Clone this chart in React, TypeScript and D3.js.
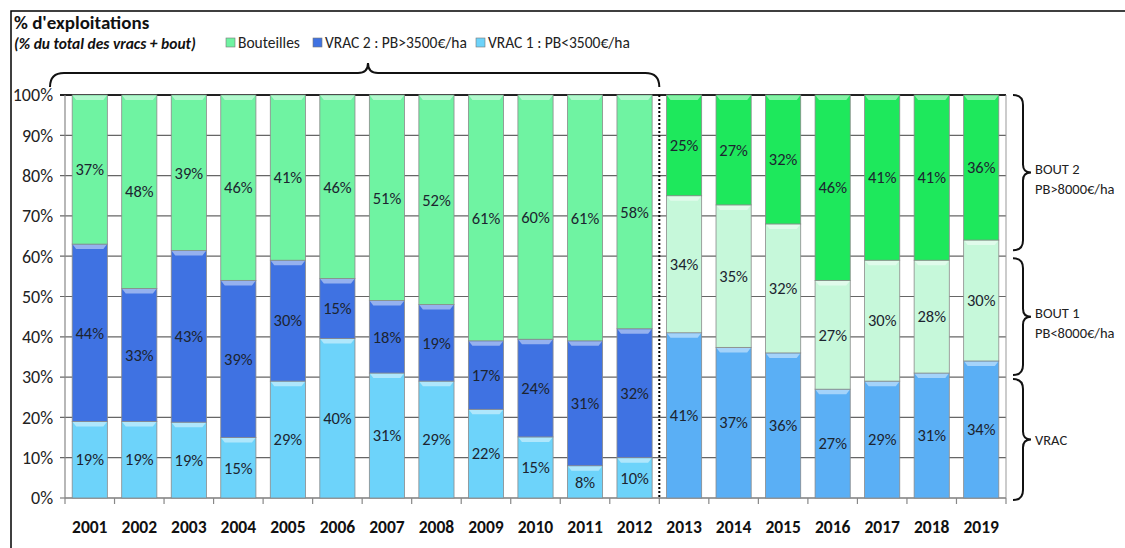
import React from 'react';
import * as d3 from 'd3';

const years1 = ['2001', '2002', '2003', '2004', '2005', '2006', '2007', '2008', '2009', '2010', '2011', '2012'];
const vrac1 = [19, 19, 19, 15, 29, 40, 31, 29, 22, 15, 8, 10];
const vrac2 = [44, 33, 43, 39, 30, 15, 18, 19, 17, 24, 31, 32];
const bouteilles = [37, 48, 39, 46, 41, 46, 51, 52, 61, 60, 61, 58];

const years2 = ['2013', '2014', '2015', '2016', '2017', '2018', '2019'];
const vrac = [41, 37, 36, 27, 29, 31, 34];
const bout1 = [34, 35, 32, 27, 30, 28, 30];
const bout2 = [25, 27, 32, 46, 41, 41, 36];

const yTicks = [0, 10, 20, 30, 40, 50, 60, 70, 80, 90, 100];

const legendItems = [
  { label: 'Bouteilles', color: '#6ff3a2' },
  { label: 'VRAC 2 : PB>3500€/ha', color: '#3f72e2' },
  { label: 'VRAC 1 : PB<3500€/ha', color: '#6dd3fa' },
];

const braces = [
  { from: 100, to: 61.5, lines: ['BOUT 2', 'PB>8000€/ha'] },
  { from: 59.5, to: 30.5, lines: ['BOUT 1', 'PB<8000€/ha'] },
  { from: 29.5, to: -0.5, lines: ['VRAC'] },
];

const FONT = 'Carlito, Lato, "Open Sans", sans-serif';

type Row = { year: string; [k: string]: number | string };

function lighten(c: string, k: number) {
  return d3.interpolateRgb(c, '#ffffff')(k);
}

export default function App() {
  const W = 1125;
  const H = 548;
  const left = 65;
  const right = 1006;
  const top = 95;
  const bottom = 498;

  const allYears = [...years1, ...years2];
  const x = d3.scaleBand<string>().domain(allYears).range([left, right]).paddingInner(0.29).paddingOuter(0.145);
  const y = d3.scaleLinear().domain([0, 1]).range([bottom, top]);
  const yPct = d3.scaleLinear().domain([0, 100]).range([bottom, top]);
  const bw = x.bandwidth();

  const rows1: Row[] = years1.map((yr, i) => ({ year: yr, vrac1: vrac1[i], vrac2: vrac2[i], bouteilles: bouteilles[i] }));
  const rows2: Row[] = years2.map((yr, i) => ({ year: yr, vrac: vrac[i], bout1: bout1[i], bout2: bout2[i] }));

  const stack1 = d3.stack<Row>().keys(['vrac1', 'vrac2', 'bouteilles']).value((d, k) => d[k] as number).offset(d3.stackOffsetExpand)(rows1);
  const stack2 = d3.stack<Row>().keys(['vrac', 'bout1', 'bout2']).value((d, k) => d[k] as number).offset(d3.stackOffsetExpand)(rows2);

  const colors: Record<string, string> = {
    vrac1: '#6dd3fa',
    vrac2: '#3f72e2',
    bouteilles: '#6ff3a2',
    vrac: '#5aaff5',
    bout1: '#c6f8da',
    bout2: '#1ee85c',
  };

  const segs: { key: string; year: string; y0: number; y1: number; v: number }[] = [];
  [stack1, stack2].forEach((st) => {
    st.forEach((layer) => {
      layer.forEach((p) => {
        segs.push({ key: layer.key, year: p.data.year as string, y0: p[0], y1: p[1], v: p.data[layer.key] as number });
      });
    });
  });

  const sepX = (x('2012')! + bw + x('2013')!) / 2;

  const hBrace = (x1: number, x2: number, yEnd: number, yLine: number, yTip: number, xTip: number) => {
    const r = yEnd - yLine;
    const t = yLine - yTip;
    return `M${x1},${yEnd} Q${x1},${yLine} ${x1 + r},${yLine} L${xTip - t},${yLine} Q${xTip},${yLine} ${xTip},${yTip} Q${xTip},${yLine} ${xTip + t},${yLine} L${x2 - r},${yLine} Q${x2},${yLine} ${x2},${yEnd}`;
  };
  const vBrace = (y1: number, y2: number, xEnd: number, xLine: number, xTip: number) => {
    const r = xLine - xEnd;
    const t = xTip - xLine;
    const ym = (y1 + y2) / 2;
    return `M${xEnd},${y1} Q${xLine},${y1} ${xLine},${y1 + r} L${xLine},${ym - t} Q${xLine},${ym} ${xTip},${ym} Q${xLine},${ym} ${xLine},${ym + t} L${xLine},${y2 - r} Q${xLine},${y2} ${xEnd},${y2}`;
  };

  const legendXs = [226, 313, 476];

  return (
    <svg width={W} height={H} style={{ position: 'absolute', left: 0, top: 0, background: '#fff' }} fontFamily={FONT}>
      <path d={`M11,${H} L11,11 L${W},11`} fill="none" stroke="#000" strokeWidth={1.5} />

      <text x={14} y={29} fontSize={19} fontWeight="bold" fill="#111">% d'exploitations</text>
      <text x={14} y={49} fontSize={15.5} fontWeight="bold" fontStyle="italic" fill="#111">(% du total des vracs + bout)</text>

      {legendItems.map((it, i) => (
        <g key={it.label}>
          <rect x={legendXs[i]} y={38} width={9} height={9} fill={it.color} stroke="#777" strokeWidth={0.6} />
          <text x={legendXs[i] + 12} y={48} fontSize={15.5} fill="#222">{it.label}</text>
        </g>
      ))}

      {yTicks.map((t) => (
        <line key={t} x1={left - 5} x2={right} y1={yPct(t)} y2={yPct(t)} stroke={t === 100 ? '#222' : '#666'} strokeWidth={t === 100 ? 1.8 : 1.2} />
      ))}

      <line x1={left} x2={left} y1={top} y2={bottom} stroke="#888" strokeWidth={1.2} />
      <line x1={right} x2={right} y1={top} y2={bottom} stroke="#999" strokeWidth={1} />
      <line x1={left} x2={right} y1={bottom} y2={bottom} stroke="#888" strokeWidth={1.2} />
      {allYears.map((yr, i) => {
        const bx = left + i * x.step();
        return <line key={'t' + yr} x1={bx} x2={bx} y1={bottom} y2={bottom + 6} stroke="#888" strokeWidth={1.2} />;
      })}
      <line x1={right} x2={right} y1={bottom} y2={bottom + 6} stroke="#888" strokeWidth={1.2} />

      {yTicks.map((t) => (
        <text key={'yl' + t} x={53} y={yPct(t)} dy="0.35em" textAnchor="end" fontSize={18} fill="#222">{t}%</text>
      ))}

      {segs.map((s) => {
        const x0 = x(s.year)!;
        const yT = y(s.y1);
        const yB = y(s.y0);
        const c = colors[s.key];
        return (
          <g key={s.key + s.year}>
            <rect x={x0} y={yT} width={bw} height={yB - yT} fill={c} stroke="#8a8a8a" strokeWidth={0.8} />
            <path d={`M${x0 + 0.5},${yT + 0.5} L${x0 + bw - 0.5},${yT + 0.5} L${x0 + bw - 4},${yT + 5} L${x0 + 4},${yT + 5} Z`} fill={lighten(c, 0.45)} />
          </g>
        );
      })}

      {segs.map((s) => (
        <text key={'l' + s.key + s.year} x={x(s.year)! + bw / 2} y={(y(s.y0) + y(s.y1)) / 2} dy="0.35em" textAnchor="middle" fontSize={16.5} fill="#1c2430">{s.v}%</text>
      ))}

      <line x1={sepX} x2={sepX} y1={top} y2={bottom} stroke="#000" strokeWidth={2} strokeDasharray="2,2" />

      {allYears.map((yr) => (
        <text key={'xl' + yr} x={x(yr)! + bw / 2} y={533} textAnchor="middle" fontSize={17.5} fontWeight="bold" fill="#111">{yr}</text>
      ))}

      <path d={hBrace(50, sepX, 87, 73, 63, 368)} fill="none" stroke="#111" strokeWidth={2} />

      {braces.map((b) => {
        const y1 = yPct(b.from);
        const y2 = yPct(b.to);
        const ym = (y1 + y2) / 2;
        return (
          <g key={b.lines[0]}>
            <path d={vBrace(y1, y2, 1013, 1023, 1031)} fill="none" stroke="#111" strokeWidth={2} />
            {b.lines.map((ln, j) => (
              <text key={ln} x={1035} y={ym + (b.lines.length === 1 ? 0 : j * 20 - 4)} dy="0.35em" fontSize={14.5} fill="#222">{ln}</text>
            ))}
          </g>
        );
      })}
    </svg>
  );
}
